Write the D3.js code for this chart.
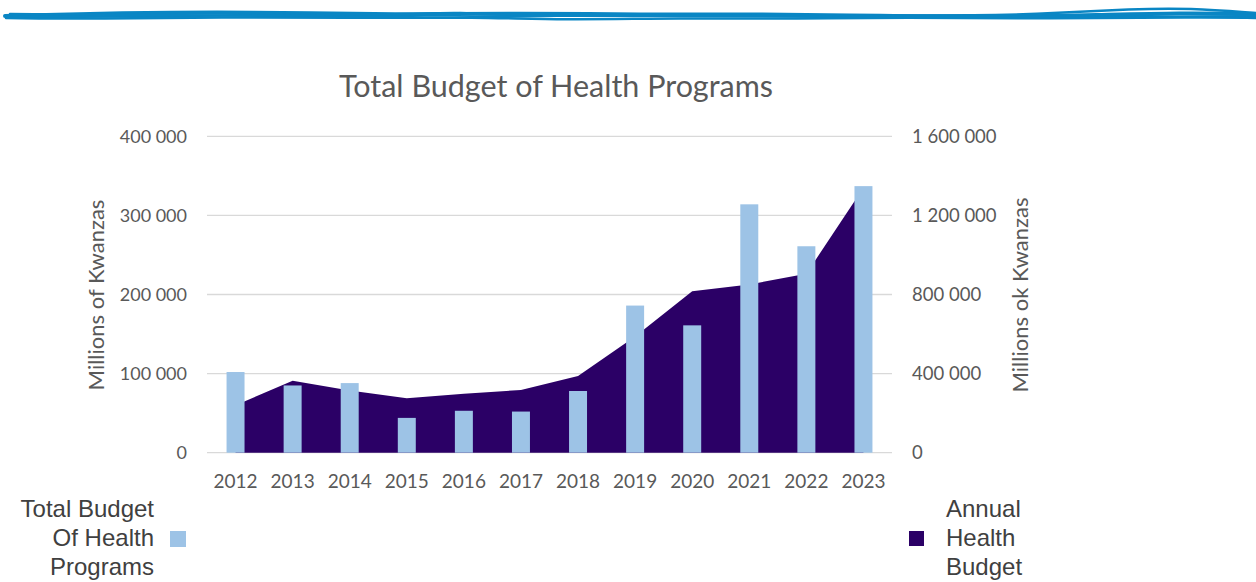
<!DOCTYPE html>
<html><head><meta charset="utf-8">
<script src="https://cdn.jsdelivr.net/npm/d3@7"></script>
<style>body{margin:0;background:#fff}svg{display:block}</style>
</head><body>
<svg id="c" width="1256" height="582"></svg>
<script>
const years = ["2012","2013","2014","2015","2016","2017","2018","2019","2020","2021","2022","2023"];
const programBudget = [102000,85000,88000,44000,53000,52000,78000,186000,161000,314000,261000,337000];
const annualBudget = [240000,364000,315000,275000,298000,317000,388000,587000,816000,851000,905000,1340000];
const leftTicks = [0,100000,200000,300000,400000];
const rightTicks = [0,400000,800000,1200000,1600000];
const title = "Total Budget of Health Programs";
const leftLabel = "Millions of Kwanzas";
const rightLabel = "Millions ok Kwanzas";
const legendLeft = ["Total Budget","Of Health","Programs"];
const legendRight = ["Annual","Health","Budget"];

const svg = d3.select("#c");
const barColor = "#9dc3e6", areaColor = "#2b0066", txt = "#595959", grid = "#d9d9d9";
const loc = d3.formatLocale({decimal:".",thousands:" ",grouping:[3],currency:["",""]});
const fmt = loc.format(",");

// decorative hand-drawn line at the top
const deco = svg.append("g").attr("fill","none").attr("stroke","#0a86c4").attr("stroke-linecap","round");
const decoLines = [
  [[5,16],[120,13],[250,12],[400,15],[520,13],[640,15],[760,14],[880,16],[1000,17],[1100,15],[1180,13],[1256,14]],
  [[8,17],[140,17],[260,14],[380,16],[420,14],[460,12],[500,16],[620,14],[760,16],[860,15],[980,16],[1060,13],[1130,9],[1190,8],[1256,13]],
  [[10,14],[150,15],[300,16],[410,17],[470,18],[540,15],[700,16],[820,17],[940,16],[1010,18],[1080,16],[1160,17],[1256,16]],
  [[6,18],[100,19],[220,17],[350,18],[480,17],[560,20],[680,18],[800,19],[900,17],[1050,19],[1200,17],[1256,18]]
];
const dl = d3.line().curve(d3.curveBasis);
decoLines.forEach((p,i)=>deco.append("path").attr("d",dl(p)).attr("stroke-width",i===0?4:2.5));

const x = d3.scaleBand().domain(years).range([207,892]);
const yL = d3.scaleLinear().domain([0,400000]).range([452.7,136.3]);
const yR = d3.scaleLinear().domain([0,1600000]).range([452.7,136.3]);

// gridlines
svg.append("g").selectAll("line").data(leftTicks).join("line")
  .attr("x1",207).attr("x2",892).attr("y1",d=>yL(d)).attr("y2",d=>yL(d))
  .attr("stroke",grid).attr("stroke-width",1.3);

// area
const area = d3.area().x((d,i)=>x(years[i])+x.bandwidth()/2).y0(yR(0)).y1(d=>yR(d));
svg.append("path").attr("d",area(annualBudget)).attr("fill",areaColor);

// bars
const bw = x.bandwidth()*0.315;
svg.append("g").selectAll("rect").data(programBudget).join("rect")
  .attr("x",(d,i)=>x(years[i])+x.bandwidth()/2-bw/2).attr("width",bw)
  .attr("y",d=>yL(d)).attr("height",d=>yL(0)-yL(d)).attr("fill",barColor);

const font = "Liberation Sans, Arial, sans-serif";
const cfont = "Lato, sans-serif";

// left axis labels
svg.append("g").selectAll("text").data(leftTicks).join("text")
  .attr("x",187).attr("y",d=>yL(d)).attr("dy","0.35em").attr("text-anchor","end")
  .attr("font-family",cfont).attr("font-size",18).attr("fill",txt).text(d=>fmt(d));
// right axis labels
svg.append("g").selectAll("text").data(rightTicks).join("text")
  .attr("x",912).attr("y",d=>yR(d)).attr("dy","0.35em").attr("text-anchor","start")
  .attr("font-family",cfont).attr("font-size",18.5).attr("fill",txt).text(d=>fmt(d));
// x labels
svg.append("g").selectAll("text").data(years).join("text")
  .attr("x",d=>x(d)+x.bandwidth()/2).attr("y",488).attr("text-anchor","middle")
  .attr("font-family",cfont).attr("font-size",19).attr("fill",txt).text(d=>d);

// title
svg.append("text").attr("x",556).attr("y",97).attr("text-anchor","middle")
  .attr("font-family",cfont).attr("font-size",30.5).attr("fill",txt).text(title);

// axis titles
svg.append("text").attr("transform","translate(104,295) rotate(-90)").attr("text-anchor","middle")
  .attr("font-family",cfont).attr("font-size",22).attr("fill",txt).text(leftLabel);
svg.append("text").attr("transform","translate(1028,295) rotate(-90)").attr("text-anchor","middle")
  .attr("font-family",cfont).attr("font-size",22).attr("fill",txt).text(rightLabel);

// legends
const lg = svg.append("g").attr("font-family",font).attr("font-size",24).attr("fill","#404040");
legendLeft.forEach((t,i)=>lg.append("text").attr("x",154).attr("y",517+i*29).attr("text-anchor","end").text(t));
legendRight.forEach((t,i)=>lg.append("text").attr("x",946).attr("y",517+i*29).attr("text-anchor","start").text(t));
lg.append("rect").attr("x",170).attr("y",531).attr("width",16).attr("height",16).attr("fill",barColor);
lg.append("rect").attr("x",909).attr("y",531).attr("width",15).attr("height",15).attr("fill",areaColor);
</script>
</body></html>
